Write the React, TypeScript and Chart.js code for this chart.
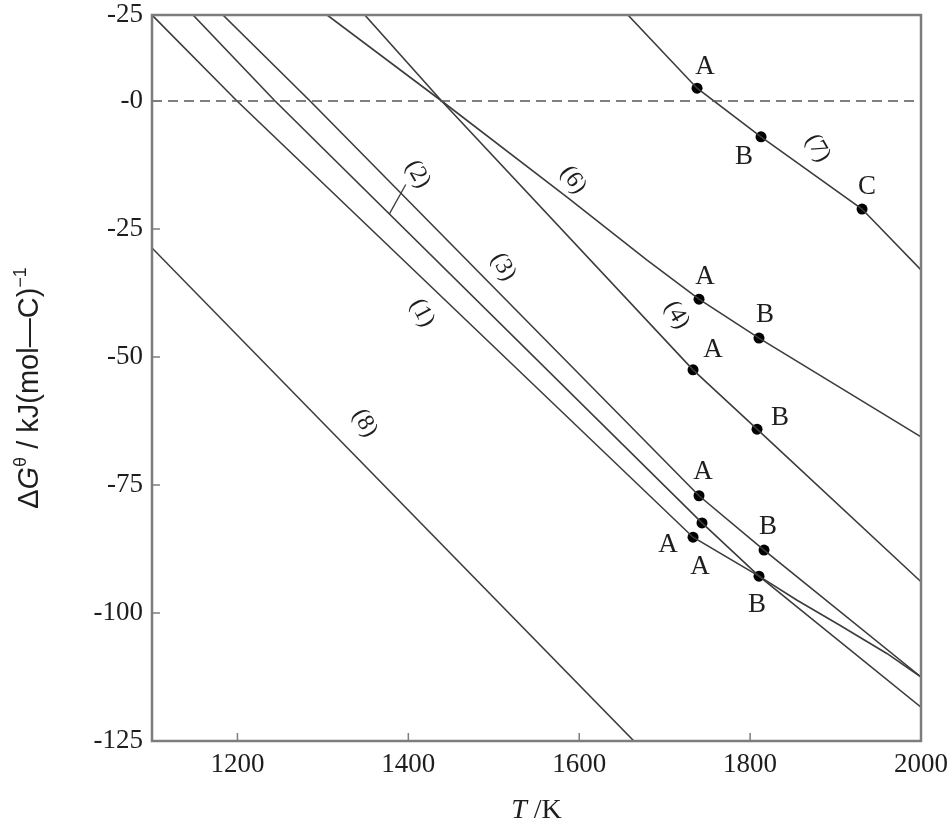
import React, { useEffect, useRef } from "react";
import { Chart, registerables } from "chart.js";

Chart.register(...registerables);

// ---- data (T in K, ΔG in kJ/(mol C)) ----
const T1 = [1100, 1199.5, 1733.2, 1810.4, 1855, 1905, 1960, 2000];
const G1 = [16.8, 0, -85.2, -92.8, -97.5, -102.4, -107.9, -112.5];
const T2 = [1148, 1244, 1743.7, 1810.4, 2000];
const G2 = [16.8, 0, -82.4, -92.8, -118.4];
const T3 = [1183, 1285, 1740.2, 1816.3, 2000];
const G3 = [16.8, 0, -77.1, -87.7, -112.5];
const T4 = [1349, 1439, 1733.2, 1808.1, 2000];
const G4 = [16.8, 0, -52.5, -64.1, -93.9];
const T6 = [1305, 1439, 1585.7, 1679, 1740.2, 1810.4, 2000];
const G6 = [16.8, 0, -18.75, -31.05, -38.7, -46.3, -65.6];
const T7 = [1657, 1737.9, 1812.8, 1931, 2000];
const G7 = [16.8, 2.5, -7.0, -21.1, -33.0];
const T8 = [1100, 1664];
const G8 = [-28.7, -125];

const markerT = [1737.9, 1812.8, 1931, 1740.2, 1810.4, 1733.2, 1808.1, 1740.2, 1816.3, 1743.7, 1733.2, 1810.4];
const markerG = [2.5, -7.0, -21.1, -38.7, -46.3, -52.5, -64.1, -77.1, -87.7, -82.4, -85.2, -92.8];
const markerText = ["A", "B", "C", "A", "B", "A", "B", "A", "B", "A", "A", "B"];

const lineLabelText = ["(1)", "(2)", "(3)", "(4)", "(6)", "(7)", "(8)"];
const lineLabelT = [1416, 1411, 1511, 1714, 1593, 1879, 1349];
const lineLabelG = [-41.4, -14.3, -32.4, -41.8, -15.4, -9.2, -62.9];

const xTicks = [1200, 1400, 1600, 1800, 2000];
const yTicks = [-125, -100, -75, -50, -25, 0, 16.8];
const yTickText = ["-125", "-100", "-75", "-50", "-25", "-0", "-25"];

const X_MIN = 1100, X_MAX = 2000, Y_MIN = -125, Y_MAX = 16.8;

// ---- styles ----
const LINE_COLOR = "#3c3c3c";
const FRAME_COLOR = "#7d7d7d";
const TEXT_COLOR = "#1e1e1e";
const SERIF = "'Liberation Serif', 'DejaVu Serif', serif";
const SANS = "'Liberation Sans', Arial, sans-serif";
// label offsets in pixels (style only)
const markerLabelOffset = [[8, -21], [-17, 20], [5, -22], [6, -22], [6, -23], [20, -20], [23, -11], [4, -24], [4, -23], [-2, 44], [-25, 8], [-2, 29]];
const lineLabelAngle = [62, 60, 60, 60, 55, 60, 60];

const zip = (t: number[], g: number[]) => t.map((v, i) => ({ x: v, y: g[i] }));

const overlay = {
  id: "overlay",
  afterDraw(chart: any) {
    const { ctx, chartArea: a, scales } = chart;
    const x = scales.x, y = scales.y;
    ctx.save();
    // frame
    ctx.strokeStyle = FRAME_COLOR;
    ctx.lineWidth = 2.5;
    ctx.strokeRect(a.left, a.top, a.right - a.left, a.bottom - a.top);
    // inward ticks
    ctx.lineWidth = 1.5;
    ctx.beginPath();
    yTicks.forEach((v) => {
      if (v >= Y_MAX || v <= Y_MIN) return;
      const py = y.getPixelForValue(v);
      ctx.moveTo(a.left, py);
      ctx.lineTo(a.left + 8, py);
    });
    xTicks.forEach((v) => {
      if (v >= X_MAX) return;
      const px = x.getPixelForValue(v);
      ctx.moveTo(px, a.bottom);
      ctx.lineTo(px, a.bottom - 8);
    });
    ctx.stroke();

    ctx.fillStyle = TEXT_COLOR;
    // marker letters
    ctx.font = `27px ${SERIF}`;
    ctx.textAlign = "center";
    ctx.textBaseline = "middle";
    markerT.forEach((t, i) => {
      const px = x.getPixelForValue(t) + markerLabelOffset[i][0];
      const py = y.getPixelForValue(markerG[i]) + markerLabelOffset[i][1];
      ctx.fillText(markerText[i], px, py);
    });
    // line labels (rotated)
    ctx.font = `24px ${SERIF}`;
    lineLabelText.forEach((s, i) => {
      const px = x.getPixelForValue(lineLabelT[i]);
      const py = y.getPixelForValue(lineLabelG[i]);
      ctx.save();
      ctx.translate(px, py);
      ctx.rotate((lineLabelAngle[i] * Math.PI) / 180);
      ctx.fillText(s, 0, 0);
      ctx.restore();
    });
    // leader for (2)
    ctx.strokeStyle = LINE_COLOR;
    ctx.lineWidth = 1.3;
    ctx.beginPath();
    ctx.moveTo(x.getPixelForValue(1397), y.getPixelForValue(-16.3));
    ctx.lineTo(x.getPixelForValue(1378), y.getPixelForValue(-22.0));
    ctx.stroke();

    // x title: T /K
    ctx.textBaseline = "alphabetic";
    ctx.textAlign = "left";
    const cx = (a.left + a.right) / 2;
    const parts = [
      { t: "T", f: `italic 28px ${SERIF}` },
      { t: " /K", f: `28px ${SERIF}` },
    ];
    let total = 0;
    parts.forEach((p) => { ctx.font = p.f; total += ctx.measureText(p.t).width; });
    let sx = cx - total / 2;
    parts.forEach((p) => { ctx.font = p.f; ctx.fillText(p.t, sx, 818); sx += ctx.measureText(p.t).width; });

    // y title
    const yparts = [
      { t: "Δ", f: `29px ${SANS}`, dy: 0 },
      { t: "G", f: `italic 29px ${SANS}`, dy: 0 },
      { t: "θ", f: `18px ${SANS}`, dy: -12 },
      { t: " / kJ(mol—C)", f: `29px ${SANS}`, dy: 0 },
      { t: "−1", f: `18px ${SANS}`, dy: -12 },
    ];
    ctx.save();
    const cy = (a.top + a.bottom) / 2 + 10;
    ctx.translate(38, cy);
    ctx.rotate(-Math.PI / 2);
    total = 0;
    yparts.forEach((p) => { ctx.font = p.f; total += ctx.measureText(p.t).width; });
    sx = -total / 2;
    yparts.forEach((p) => { ctx.font = p.f; ctx.fillText(p.t, sx, p.dy); sx += ctx.measureText(p.t).width; });
    ctx.restore();
    ctx.restore();
  },
};

export default function App() {
  const ref = useRef<HTMLCanvasElement | null>(null);
  useEffect(() => {
    document.body.style.margin = "0";
    const canvas = ref.current!;
    const lineDs = (t: number[], g: number[]) => ({
      type: "line" as const,
      data: zip(t, g),
      borderColor: LINE_COLOR,
      borderWidth: 1.6,
      pointRadius: 0,
      tension: 0,
      fill: false,
    });
    const chart = new Chart(canvas, {
      type: "scatter",
      data: {
        datasets: [
          {
            type: "line" as const,
            data: [{ x: X_MIN, y: 0 }, { x: X_MAX, y: 0 }],
            borderColor: "#555",
            borderWidth: 1.5,
            borderDash: [10, 6],
            pointRadius: 0,
          },
          lineDs(T1, G1),
          lineDs(T2, G2),
          lineDs(T3, G3),
          lineDs(T4, G4),
          lineDs(T6, G6),
          lineDs(T7, G7),
          lineDs(T8, G8),
          {
            type: "scatter" as const,
            data: zip(markerT, markerG),
            pointRadius: 5.5,
            pointBackgroundColor: "#000",
            pointBorderColor: "#000",
            pointBorderWidth: 0,
          },
        ] as any,
      },
      options: {
        animation: false,
        responsive: false,
        maintainAspectRatio: false,
        devicePixelRatio: 1,
        layout: { padding: { left: 0, top: 15, right: 29, bottom: 0 } },
        plugins: { legend: { display: false }, tooltip: { enabled: false } },
        scales: {
          x: {
            type: "linear",
            min: X_MIN,
            max: X_MAX,
            grid: { display: false, drawTicks: false },
            border: { display: false },
            afterBuildTicks: (s: any) => { s.ticks = xTicks.map((v) => ({ value: v })); },
            afterFit: (s: any) => { s.height = 85; s.paddingLeft = 0; s.paddingRight = 0; },
            ticks: {
              padding: 8,
              color: TEXT_COLOR,
              font: { family: SERIF, size: 27 },
              maxRotation: 0,
              autoSkip: false,
              callback: (v: any) => String(v),
            },
          },
          y: {
            type: "linear",
            min: Y_MIN,
            max: Y_MAX,
            grid: { display: false, drawTicks: false },
            border: { display: false },
            afterBuildTicks: (s: any) => { s.ticks = yTicks.map((v) => ({ value: v })); },
            afterFit: (s: any) => { s.width = 152; s.paddingTop = 0; s.paddingBottom = 0; },
            ticks: {
              padding: 9,
              color: TEXT_COLOR,
              font: { family: SERIF, size: 27 },
              autoSkip: false,
              callback: (v: any) => {
                const i = yTicks.indexOf(v);
                return i >= 0 ? yTickText[i] : "";
              },
            },
          },
        },
      },
      plugins: [overlay],
    });
    return () => chart.destroy();
  }, []);
  return (
    <div style={{ width: 950, height: 826, background: "#fff" }}>
      <canvas ref={ref} width={950} height={826} style={{ display: "block" }} />
    </div>
  );
}
